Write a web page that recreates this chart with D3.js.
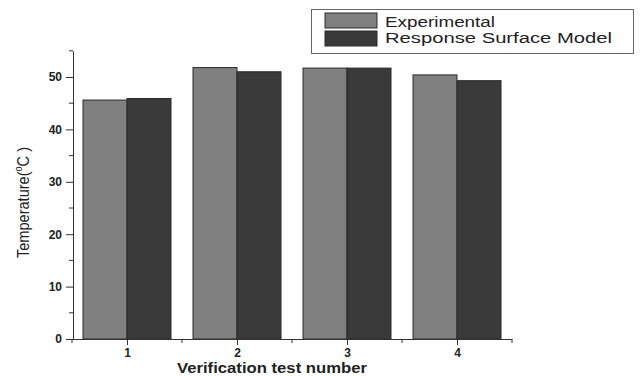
<!DOCTYPE html>
<html>
<head>
<meta charset="utf-8">
<script src="https://d3js.org/d3.v7.min.js"></script>
<style>
  body { margin: 0; background: #fff; }
  text { font-family: "Liberation Sans", Arial, sans-serif; }
</style>
</head>
<body>
<svg width="642" height="376"></svg>
<script>
// data
const tests = [1, 2, 3, 4];
const experimental = [45.6, 51.8, 51.7, 50.4];
const responseSurface = [45.9, 51.0, 51.7, 49.3];
const seriesNames = ['Experimental', 'Response Surface Model'];
const yTicks = [0, 10, 20, 30, 40, 50];

const colors = ['#808080', '#3a3a3a'];
const tickFont = '"DejaVu Sans", sans-serif';

const svg = d3.select('svg');
const x0 = 72, x1 = 512, yBase = 339;

const x = d3.scaleLinear().domain([0.5, 4.5]).range([x0, x1]);
const y = d3.scaleLinear().domain([0, 55]).range([yBase, yBase - 55 * 5.24]);
const barW = x(0.4) - x(0);

// bars
const series = [experimental, responseSurface];
series.forEach((vals, s) => {
  svg.append('g').selectAll('rect').data(vals).enter().append('rect')
    .attr('x', (d, i) => s === 0 ? x(tests[i]) - barW : x(tests[i]))
    .attr('y', d => y(d))
    .attr('width', barW)
    .attr('height', d => yBase - y(d))
    .attr('fill', colors[s])
    .attr('stroke', '#2a2a2a')
    .attr('stroke-width', 1);
});

// y axis
const yAxis = svg.append('g').attr('transform', `translate(${x0 + 1},0)`);
yAxis.call(d3.axisLeft(y).tickValues(yTicks).tickSize(7).tickPadding(4).tickSizeOuter(0));
yAxis.select('.domain').attr('stroke', '#333');
yAxis.selectAll('.tick line').attr('stroke', '#333');
yAxis.selectAll('text').attr('font-size', 12).attr('font-weight', 'bold')
  .attr('font-family', tickFont).attr('fill', '#222');
yAxis.selectAll('.minor').data([5, 15, 25, 35, 45, 55]).enter().append('line')
  .attr('class', 'minor')
  .attr('x1', 0).attr('x2', -4)
  .attr('y1', d => y(d)).attr('y2', d => y(d))
  .attr('stroke', '#333');

// x axis
const xAxis = svg.append('g').attr('transform', `translate(0,${yBase})`);
xAxis.call(d3.axisBottom(x).tickValues(tests).tickFormat(d3.format('d')).tickSize(6).tickPadding(3).tickSizeOuter(0));
xAxis.select('.domain').attr('stroke', '#333');
xAxis.selectAll('.tick line').attr('stroke', '#333');
xAxis.selectAll('text').attr('font-size', 12).attr('font-weight', 'bold')
  .attr('font-family', tickFont).attr('fill', '#222');
xAxis.selectAll('.minor').data([0.5, 1.5, 2.5, 3.5, 4.5]).enter().append('line')
  .attr('class', 'minor')
  .attr('y1', 0).attr('y2', 4)
  .attr('x1', d => x(d)).attr('x2', d => x(d))
  .attr('stroke', '#333');

// axis titles (the original figure is stretched sideways)
svg.append('text')
  .attr('x', 177)
  .attr('y', 373)
  .attr('font-size', 15)
  .attr('font-weight', 'bold')
  .attr('fill', '#222')
  .attr('textLength', 190)
  .attr('lengthAdjust', 'spacingAndGlyphs')
  .text('Verification test number');

const yTitle = svg.append('text')
  .attr('transform', 'translate(29,258) rotate(-90)')
  .attr('font-size', 16)
  .attr('fill', '#222')
  .attr('textLength', 111)
  .attr('lengthAdjust', 'spacingAndGlyphs');
yTitle.append('tspan').text('Temperature(');
yTitle.append('tspan').attr('font-size', 10).attr('dy', -7).text('o');
yTitle.append('tspan').attr('dy', 7).text('C )');

// legend
const legend = svg.append('g');
legend.append('rect')
  .attr('x', 311.5).attr('y', 9.5).attr('width', 322).attr('height', 44)
  .attr('fill', '#fff').attr('stroke', '#666');
const legendWidths = [110, 227];
seriesNames.forEach((name, i) => {
  legend.append('rect')
    .attr('x', 325).attr('y', 13 + i * 18).attr('width', 52).attr('height', 15)
    .attr('fill', colors[i]).attr('stroke', '#2a2a2a');
  legend.append('text')
    .attr('x', 385).attr('y', 26.7 + i * 16.6)
    .attr('font-size', 14).attr('fill', '#222')
    .attr('textLength', legendWidths[i])
    .attr('lengthAdjust', 'spacingAndGlyphs')
    .text(name);
});
</script>
</body>
</html>
